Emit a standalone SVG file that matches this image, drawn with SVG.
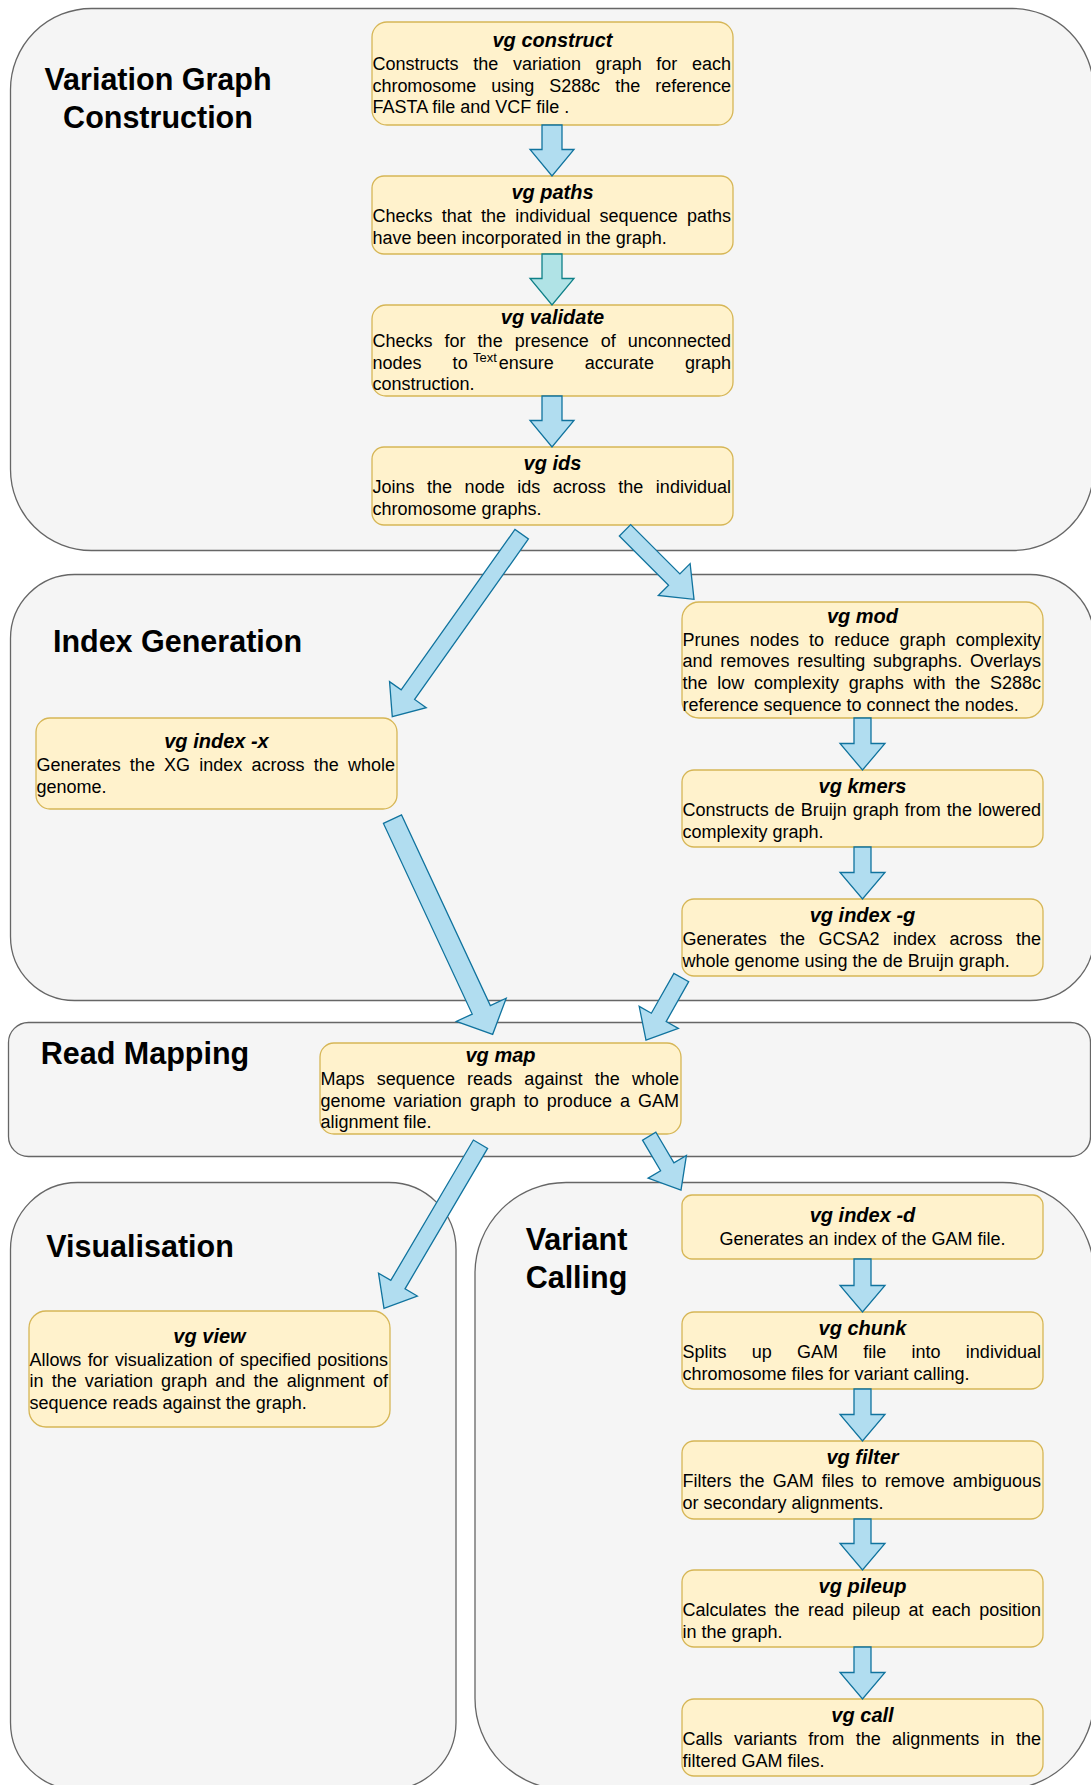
<svg xmlns="http://www.w3.org/2000/svg" width="1091" height="1785" viewBox="0 0 1091 1785">
<style>
.sec{fill:#f5f5f5;stroke:#666666;stroke-width:1.3}
.node{fill:#fff2cc;stroke:#d6b656;stroke-width:1.3}
.arr{fill:#b1ddf0;stroke:#10739e;stroke-width:1.3}
.arr2{fill:#b0e3e6;stroke:#0e8088;stroke-width:1.3}
.lbl{font-family:"Liberation Sans",Arial,sans-serif;font-size:30.5px;font-weight:bold;fill:#000;text-anchor:middle}
.ttl{font-family:"Liberation Sans",Arial,sans-serif;font-size:20px;font-weight:bold;font-style:italic;fill:#000;text-anchor:middle}
.txt{font-family:"Liberation Sans",Arial,sans-serif;font-size:18px;fill:#000}
.sm{font-family:"Liberation Sans",Arial,sans-serif;font-size:13px;fill:#000}
</style>
<rect width="1091" height="1785" fill="#ffffff"/>
<g id="sections">
<g id="sec-construction"><rect class="sec" x="10.5" y="8.5" width="1083" height="542" rx="81"/><text class="lbl" x="158" y="90">Variation Graph</text><text class="lbl" x="158" y="128">Construction</text></g>
<g id="sec-index"><rect class="sec" x="10.5" y="574.5" width="1083.5" height="426" rx="64"/><text class="lbl" x="177.5" y="652">Index Generation</text></g>
<g id="sec-mapping"><rect class="sec" x="8.5" y="1022.5" width="1082" height="134" rx="20"/><text class="lbl" x="145" y="1064">Read Mapping</text></g>
<g id="sec-visual"><rect class="sec" x="10.5" y="1182.5" width="445.5" height="607" rx="67"/><text class="lbl" x="140" y="1256.5">Visualisation</text></g>
<g id="sec-variant"><rect class="sec" x="475" y="1182.5" width="619" height="607" rx="91"/><text class="lbl" x="576.5" y="1250">Variant</text><text class="lbl" x="576.5" y="1287.5">Calling</text></g>
</g>
<g id="nodes">
<g id="vg-construct"><rect class="node" x="372" y="22" width="361" height="103" rx="15"/>
<text class="ttl" x="552.5" y="47">vg construct</text>
<text class="txt" x="372.5" y="70" word-spacing="9.58" textLength="358.5" lengthAdjust="spacing">Constructs the variation graph for each</text>
<text class="txt" x="372.5" y="91.6" word-spacing="10.17" textLength="358.5" lengthAdjust="spacing">chromosome using S288c the reference</text>
<text class="txt" x="372.5" y="113.2">FASTA file and VCF file .</text></g>
<g id="vg-paths"><rect class="node" x="372" y="176" width="361" height="78" rx="12"/>
<text class="ttl" x="552.5" y="199.4">vg paths</text>
<text class="txt" x="372.5" y="222.4" word-spacing="4.16" textLength="358.5" lengthAdjust="spacing">Checks that the individual sequence paths</text>
<text class="txt" x="372.5" y="244">have been incorporated in the graph.</text></g>
<g id="vg-validate"><rect class="node" x="372" y="305" width="361" height="91" rx="14"/>
<text class="ttl" x="552.5" y="324.1">vg validate</text>
<text class="txt" x="372.5" y="347.1" word-spacing="6.96" textLength="358.5" lengthAdjust="spacing">Checks for the presence of unconnected</text>
<text class="txt" x="372.5" y="368.7" word-spacing="25.97" textLength="358.5" lengthAdjust="spacing">nodes to ensure accurate graph</text>
<text class="txt" x="372.5" y="390.3">construction.</text>
<text class="sm" x="473" y="361.5">Text</text></g>
<g id="vg-ids"><rect class="node" x="372" y="447" width="361" height="78" rx="12"/>
<text class="ttl" x="552.5" y="470.4">vg ids</text>
<text class="txt" x="372.5" y="493.4" word-spacing="7.48" textLength="358.5" lengthAdjust="spacing">Joins the node ids across the individual</text>
<text class="txt" x="372.5" y="515">chromosome graphs.</text></g>
<g id="vg-mod"><rect class="node" x="682" y="602" width="361" height="116" rx="17"/>
<text class="ttl" x="862.5" y="622.8">vg mod</text>
<text class="txt" x="682.5" y="645.8" word-spacing="5.16" textLength="358.5" lengthAdjust="spacing">Prunes nodes to reduce graph complexity</text>
<text class="txt" x="682.5" y="667.4" word-spacing="2.72" textLength="358.5" lengthAdjust="spacing">and removes resulting subgraphs. Overlays</text>
<text class="txt" x="682.5" y="689" word-spacing="4.65" textLength="358.5" lengthAdjust="spacing">the low complexity graphs with the S288c</text>
<text class="txt" x="682.5" y="710.6">reference sequence to connect the nodes.</text></g>
<g id="vg-kmers"><rect class="node" x="682" y="770" width="361" height="77" rx="12"/>
<text class="ttl" x="862.5" y="792.9">vg kmers</text>
<text class="txt" x="682.5" y="815.9" word-spacing="0.98" textLength="358.5" lengthAdjust="spacing">Constructs de Bruijn graph from the lowered</text>
<text class="txt" x="682.5" y="837.5">complexity graph.</text></g>
<g id="vg-index-g"><rect class="node" x="682" y="899" width="361" height="77" rx="12"/>
<text class="ttl" x="862.5" y="921.9">vg index -g</text>
<text class="txt" x="682.5" y="944.9" word-spacing="8.36" textLength="358.5" lengthAdjust="spacing">Generates the GCSA2 index across the</text>
<text class="txt" x="682.5" y="966.5">whole genome using the de Bruijn graph.</text></g>
<g id="vg-index-x"><rect class="node" x="36" y="718" width="361" height="91" rx="14"/>
<text class="ttl" x="216.5" y="747.9">vg index -x</text>
<text class="txt" x="36.5" y="770.9" word-spacing="4.13" textLength="358.5" lengthAdjust="spacing">Generates the XG index across the whole</text>
<text class="txt" x="36.5" y="792.5">genome.</text></g>
<g id="vg-map"><rect class="node" x="320" y="1043" width="361" height="91" rx="14"/>
<text class="ttl" x="500.5" y="1062.1">vg map</text>
<text class="txt" x="320.5" y="1085.1" word-spacing="7.16" textLength="358.5" lengthAdjust="spacing">Maps sequence reads against the whole</text>
<text class="txt" x="320.5" y="1106.7" word-spacing="2.97" textLength="358.5" lengthAdjust="spacing">genome variation graph to produce a GAM</text>
<text class="txt" x="320.5" y="1128.3">alignment file.</text></g>
<g id="vg-view"><rect class="node" x="29" y="1311" width="361" height="116" rx="17"/>
<text class="ttl" x="209.5" y="1342.6">vg view</text>
<text class="txt" x="29.5" y="1365.6" word-spacing="1.34" textLength="358.5" lengthAdjust="spacing">Allows for visualization of specified positions</text>
<text class="txt" x="29.5" y="1387.2" word-spacing="3.11" textLength="358.5" lengthAdjust="spacing">in the variation graph and the alignment of</text>
<text class="txt" x="29.5" y="1408.8">sequence reads against the graph.</text></g>
<g id="vg-index-d"><rect class="node" x="682" y="1195" width="361" height="64" rx="10"/>
<text class="ttl" x="862.5" y="1222.2">vg index -d</text>
<text class="txt" x="862.5" y="1245.2" text-anchor="middle">Generates an index of the GAM file.</text></g>
<g id="vg-chunk"><rect class="node" x="682" y="1312" width="361" height="77" rx="12"/>
<text class="ttl" x="862.5" y="1334.9">vg chunk</text>
<text class="txt" x="682.5" y="1357.9" word-spacing="20.18" textLength="358.5" lengthAdjust="spacing">Splits up GAM file into individual</text>
<text class="txt" x="682.5" y="1379.5">chromosome files for variant calling.</text></g>
<g id="vg-filter"><rect class="node" x="682" y="1441" width="361" height="78" rx="12"/>
<text class="ttl" x="862.5" y="1464.4">vg filter</text>
<text class="txt" x="682.5" y="1487.4" word-spacing="2.98" textLength="358.5" lengthAdjust="spacing">Filters the GAM files to remove ambiguous</text>
<text class="txt" x="682.5" y="1509">or secondary alignments.</text></g>
<g id="vg-pileup"><rect class="node" x="682" y="1570" width="361" height="77" rx="12"/>
<text class="ttl" x="862.5" y="1592.9">vg pileup</text>
<text class="txt" x="682.5" y="1615.9" word-spacing="3.43" textLength="358.5" lengthAdjust="spacing">Calculates the read pileup at each position</text>
<text class="txt" x="682.5" y="1637.5">in the graph.</text></g>
<g id="vg-call"><rect class="node" x="682" y="1699" width="361" height="77" rx="12"/>
<text class="ttl" x="862.5" y="1721.9">vg call</text>
<text class="txt" x="682.5" y="1744.9" word-spacing="6.32" textLength="358.5" lengthAdjust="spacing">Calls variants from the alignments in the</text>
<text class="txt" x="682.5" y="1766.5">filtered GAM files.</text></g>
</g>
<g id="connectors">
<polygon class="arr" points="542,125 562,125 562,149.5 574,149.5 552,176 530,149.5 542,149.5"/>
<polygon class="arr2" points="542,254 562,254 562,278.5 574,278.5 552,305 530,278.5 542,278.5"/>
<polygon class="arr" points="542,396 562,396 562,420.5 574,420.5 552,447 530,420.5 542,420.5"/>
<polygon class="arr" points="854,718 871,718 871,743.5 885,743.5 862.5,770 840,743.5 854,743.5"/>
<polygon class="arr" points="854,847 871,847 871,872.5 885,872.5 862.5,899 840,872.5 854,872.5"/>
<polygon class="arr" points="854,1259 871,1259 871,1285.5 885,1285.5 862.5,1312 840,1285.5 854,1285.5"/>
<polygon class="arr" points="854,1389 871,1389 871,1414.5 885,1414.5 862.5,1441 840,1414.5 854,1414.5"/>
<polygon class="arr" points="854,1519 871,1519 871,1543.5 885,1543.5 862.5,1570 840,1543.5 854,1543.5"/>
<polygon class="arr" points="854,1647 871,1647 871,1672.5 885,1672.5 862.5,1699 840,1672.5 854,1672.5"/>
<polygon class="arr" transform="translate(521.7,534.2) rotate(125.35)" points="0,-8.25 196.7,-8.25 196.7,-22.5 223.7,0 196.7,22.5 196.7,8.25 0,8.25"/>
<polygon class="arr" transform="translate(625,530.3) rotate(45)" points="0,-8 69.6,-8 69.6,-22.5 97.6,0 69.6,22.5 69.6,8 0,8"/>
<polygon class="arr" transform="translate(392.5,819.2) rotate(65.03)" points="0,-10 210.3,-10 210.3,-27.5 237.3,0 210.3,27.5 210.3,10 0,10"/>
<polygon class="arr" transform="translate(681.3,977.5) rotate(119.46)" points="0,-8.5 45.8,-8.5 45.8,-22.5 71.8,0 45.8,22.5 45.8,8.5 0,8.5"/>
<polygon class="arr" transform="translate(480.5,1144.2) rotate(120.46)" points="0,-8.25 162.9,-8.25 162.9,-22.5 190.4,0 162.9,22.5 162.9,8.25 0,8.25"/>
<polygon class="arr" transform="translate(649.2,1136.2) rotate(59.41)" points="0,-7.75 35.5,-7.75 35.5,-22.25 62.5,0 35.5,22.25 35.5,7.75 0,7.75"/>
</g>
</svg>
